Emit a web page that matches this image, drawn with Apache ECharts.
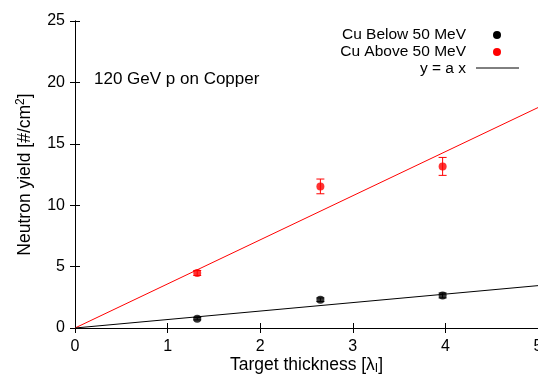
<!DOCTYPE html>
<html><head><meta charset="utf-8">
<script src="https://cdn.jsdelivr.net/npm/echarts@6/dist/echarts.min.js"></script>
<style>html,body{margin:0;padding:0;background:#fff}#c{width:538px;height:376px}</style>
</head><body><div id="c"></div>
<script>
const thickness = [1.32, 2.65, 3.97];
const below = [0.76, 2.30, 2.65];
const belowErr = [0.1, 0.15, 0.2];
const above = [4.48, 11.53, 13.16];
const aboveErr = [0.2, 0.6, 0.73];
const fitBelowSlope = 0.69;
const fitAboveSlope = 3.59;
const xTicks = [0, 1, 2, 3, 4, 5];
const yTicks = [0, 5, 10, 15, 20, 25];

const F = 'Liberation Sans, Arial, sans-serif';
const chart = echarts.init(document.getElementById('c'));

function errSeries(vals, errs, color) {
  return {
    type: 'custom', z: 3,
    data: thickness.map((x, i) => [x, vals[i], errs[i]]),
    renderItem: function (params, api) {
      const x = api.value(0), y = api.value(1), e = api.value(2);
      const top = api.coord([x, y + e]);
      const bot = api.coord([x, y - e]);
      const w = 4;
      return {
        type: 'group',
        children: [
          {type: 'line', shape: {x1: top[0], y1: top[1], x2: bot[0], y2: bot[1]}, style: {stroke: color, lineWidth: 1}},
          {type: 'line', shape: {x1: top[0] - w, y1: top[1], x2: top[0] + w, y2: top[1]}, style: {stroke: color, lineWidth: 1}},
          {type: 'line', shape: {x1: bot[0] - w, y1: bot[1], x2: bot[0] + w, y2: bot[1]}, style: {stroke: color, lineWidth: 1}}
        ]
      };
    }
  };
}

const axisCommon = {
  axisLine: {show: true, lineStyle: {color: '#000', width: 1}},
  axisTick: {show: true, inside: true, length: 5, lineStyle: {color: '#000'}},
  splitLine: {show: false}
};

chart.setOption({
  animation: false,
  backgroundColor: '#fff',
  grid: {left: 75, top: 21, width: 463, height: 307, containLabel: false, outerBoundsMode: 'none'},
  xAxis: [
    Object.assign({
      type: 'value', min: 0, max: 5, interval: 1, position: 'bottom',
      axisLabel: {color: '#000', fontSize: 16, fontFamily: F, margin: 11},
      name: 'Target thickness [λ{sub|I}]', nameLocation: 'middle', nameGap: 28, nameMoveOverlap: false,
      nameTextStyle: {color: '#000', fontSize: 17.5, fontFamily: F,
        rich: {sub: {fontSize: 12, fontFamily: F, color: '#000', verticalAlign: 'bottom', padding: [7, 0, 0, 0]}}}
    }, axisCommon),
    Object.assign({
      type: 'value', min: 0, max: 5, interval: 1, position: 'top',
      axisLabel: {show: false}
    }, axisCommon)
  ],
  yAxis: [
    Object.assign({
      type: 'value', min: 0, max: 25, interval: 5, position: 'left',
      axisLabel: {color: '#000', fontSize: 16, fontFamily: F, margin: 10},
      name: 'Neutron yield [#/cm{sup|2}]', nameLocation: 'middle', nameGap: 39, nameMoveOverlap: false,
      nameTextStyle: {color: '#000', fontSize: 17.5, fontFamily: F,
        rich: {sup: {fontSize: 12, fontFamily: F, color: '#000', verticalAlign: 'top', padding: [0, 0, 9, 0]}}}
    }, axisCommon),
    Object.assign({
      type: 'value', min: 0, max: 25, interval: 5, position: 'right',
      axisLabel: {show: false}
    }, axisCommon)
  ],
  series: [
    {type: 'line', data: [[0, 0], [5, 5 * fitAboveSlope]], symbol: 'none', lineStyle: {color: '#ff0000', width: 1}, z: 2},
    {type: 'line', data: [[0, 0], [5, 5 * fitBelowSlope]], symbol: 'none', lineStyle: {color: '#000', width: 1}, z: 2},
    errSeries(below, belowErr, '#000'),
    errSeries(above, aboveErr, '#ff0000'),
    {type: 'scatter', data: thickness.map((x, i) => [x, below[i]]), symbol: 'circle', symbolSize: 8, itemStyle: {color: '#000'}, z: 4},
    {type: 'scatter', data: thickness.map((x, i) => [x, above[i]]), symbol: 'circle', symbolSize: 8, itemStyle: {color: '#ff0000'}, z: 4}
  ],
  graphic: [
    {type: 'text', left: 94, top: 71, style: {text: '120 GeV p on Copper', font: '17px ' + F, fill: '#000'}},
    {type: 'text', right: 72, top: 27, style: {text: 'Cu Below 50 MeV', font: '15.5px ' + F, fill: '#000'}},
    {type: 'text', right: 72, top: 44, style: {text: 'Cu Above 50 MeV', font: '15.5px ' + F, fill: '#000'}},
    {type: 'text', right: 72, top: 61, style: {text: 'y = a x', font: '15.5px ' + F, fill: '#000'}},
    {type: 'circle', shape: {cx: 497, cy: 35, r: 4}, style: {fill: '#000'}},
    {type: 'circle', shape: {cx: 497, cy: 52, r: 4}, style: {fill: '#ff0000'}},
    {type: 'line', shape: {x1: 476, y1: 68, x2: 519, y2: 68}, style: {stroke: '#000', lineWidth: 1}}
  ]
});
</script></body></html>
